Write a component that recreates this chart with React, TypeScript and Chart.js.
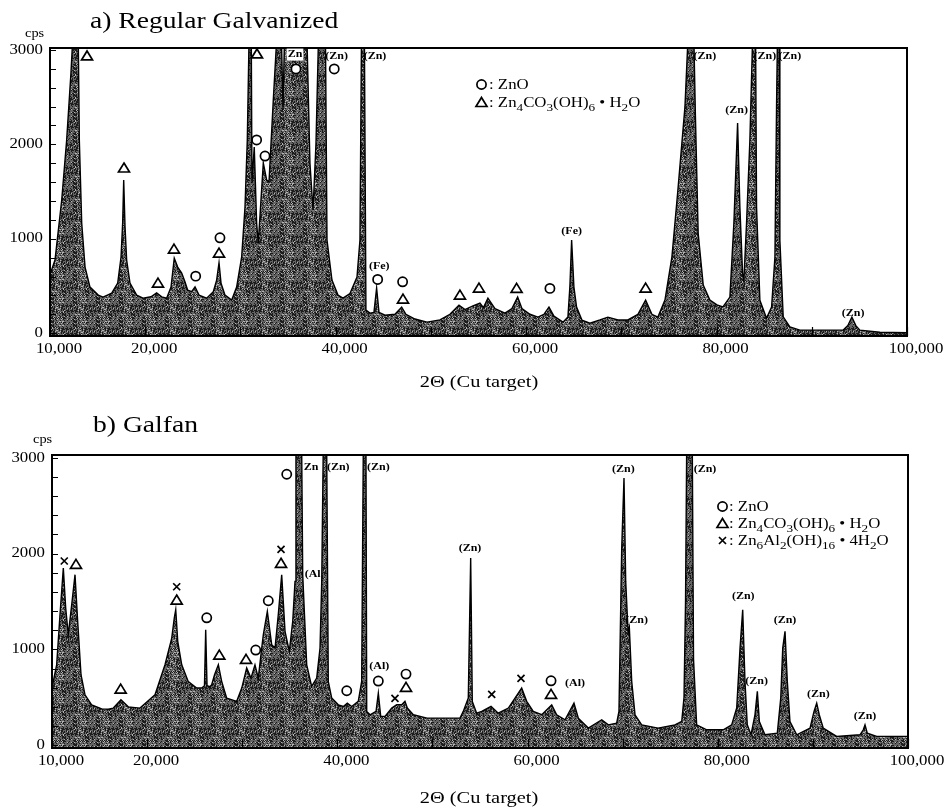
import React, { useEffect, useRef } from "react";
import { Chart, registerables } from "chart.js";

Chart.register(...registerables);

const SERIF = '"Liberation Serif", "Times New Roman", Times, serif';
const STRETCH = 1.2;

// ---------- axes ----------
const xTickValues = [10000, 20000, 30000, 40000, 50000, 60000, 70000, 80000, 90000, 100000];
const xLabelValues = [10000, 20000, 40000, 60000, 80000, 100000];
const xLabelTexts = ["10,000", "20,000", "40,000", "60,000", "80,000", "100,000"];
const yTickValues = [0, 200, 400, 600, 800, 1000, 1200, 1400, 1600, 1800, 2000, 2200, 2400, 2600, 2800, 3000];
const yLabelValues = [0, 1000, 2000, 3000];
const yLabelTexts = ["0", "1000", "2000", "3000"];

// ---------- panel a) Regular Galvanized ----------
const aTwoTheta = [10000,10525,11230,11750,12200,12380,12680,12970,13080,13330,13680,14200,15070,15570,16480,17110,17460,17630,17740,17880,18050,18400,19100,19770,20610,21200,21730,22250,22710,23050,23410,23830,24180,24460,24880,25230,25650,26450,27150,27500,27750,27960,28380,29080,29600,30130,30480,30720,30900,31050,31210,31450,31700,31870,32400,32750,33000,33450,33800,33990,34310,34470,34620,35730,36990,37300,37620,37930,38190,38560,38930,39090,39610,40240,40770,41500,42240,42550,42710,42870,43020,43180,43600,44020,44300,44550,45180,46230,46930,47380,48330,49590,50950,52000,52950,53580,54420,55150,55520,55990,56730,57780,58510,59110,59560,60400,61240,61870,62400,62920,63870,64390,64600,64780,65020,65300,65860,66700,67750,68590,69640,70690,71740,72550,73210,73840,74580,75310,75940,76680,76990,77300,77620,77780,78070,78600,79300,80040,80670,81400,81820,82210,82450,82730,82870,83150,83500,83780,83940,84100,84200,84550,85250,85780,86130,86300,86390,86490,86600,86650,87000,87700,88750,93270,93790,94210,94630,95050,97150,100000];
const aCps = [620,774,1410,2046,2756,3100,9000,3100,2046,1166,700,488,403,382,424,530,806,1166,1622,1124,774,530,403,371,385,427,385,371,488,795,700,636,541,456,440,491,403,371,438,562,745,530,403,350,488,809,1339,2046,3100,5000,1590,1972,1166,950,1802,1622,1600,2470,3100,5000,3100,2364,3100,8000,3100,1800,1300,2000,3100,7000,3100,986,562,403,371,420,594,986,3100,9000,3100,244,212,220,477,220,190,200,276,200,150,117,140,200,297,250,290,318,270,371,260,212,260,382,260,200,170,200,276,180,117,170,500,986,488,276,138,106,140,170,140,140,200,350,200,170,350,806,1516,2396,3100,9000,3100,2300,1057,510,350,300,279,382,1166,2226,1336,636,562,1166,2046,3100,6000,3100,1336,350,159,276,806,2396,3100,7000,3100,986,173,67,32,32,80,170,80,32,10,5];

const aTriangles: [number, number][] = [[13890,2936],[17770,1749],[21340,530],[23020,890],[27750,848],[31740,2957],[47070,360],[53050,403],[55050,477],[59000,474],[72550,477]];
const aCircles: [number, number][] = [[27850,1010],[25300,604],[31700,2046],[32580,1876],[35830,2798],[39850,2798],[44410,569],[47030,544],[62500,474]];
const aPeakLabels: [string, number, number][] = [["(Zn)",40100,2930],["(Zn)",44130,2930],["(Fe)",44580,703],["(Fe)",64780,1074],["(Zn)",78780,2930],["(Zn)",85080,2930],["(Zn)",87700,2930],["(Zn)",82100,2364],["(Zn)",94350,209]];
const aBoxedLabels: [string, number, number][] = [["Zn",35730,2950]];

// ---------- panel b) Galfan ----------
const bTwoTheta = [10000,10490,10840,11190,11440,11710,12070,12420,12700,13050,13470,14170,15230,15920,16450,17250,18020,19250,20830,21880,22590,22860,23010,23220,23640,24330,25210,25740,26030,26160,26300,26610,26790,27090,27490,27840,28370,29420,29950,30470,30920,31340,31690,32050,32220,32640,33100,33450,33790,34150,34500,34950,35310,35550,35650,35970,36250,36360,36780,37300,37830,38180,38360,38520,38700,38880,39050,39410,40100,40630,41050,41510,42200,42560,42730,42880,43010,43090,43440,44070,44310,44560,45010,45720,46240,46770,47110,47360,47990,49430,52900,53240,53770,54020,54190,54650,55180,56160,56920,57980,58680,59380,59910,60600,61490,62540,63060,63940,64880,65340,66390,67800,68490,69370,69610,69900,70140,70320,70490,70580,70700,70950,71300,72000,73720,75500,76210,76450,76610,76730,77030,77320,77450,77780,78840,80580,81460,81990,82340,82620,82860,83100,83490,83910,84160,84370,84960,86260,86620,86830,87070,87310,87590,88300,89700,90120,90400,90670,91090,92500,94950,95300,95480,95720,96710,100000];
const bCps = [600,839,1362,1850,1432,1153,1466,1780,1292,735,526,421,379,375,387,474,400,387,526,839,1118,1330,1414,1084,839,663,596,596,620,1205,620,610,630,735,839,666,491,457,596,805,700,839,700,1014,1153,1397,1048,1014,1362,1780,1188,979,1292,1710,3100,9000,3100,1780,839,613,700,1014,1710,3100,7000,3100,663,491,421,404,439,404,457,666,3100,9000,3100,352,317,352,543,300,300,387,421,421,457,387,317,282,282,352,491,1954,457,334,352,404,334,387,491,596,457,352,317,421,317,265,439,282,178,265,212,230,352,2059,2790,1710,1350,1180,1230,666,317,212,178,212,247,500,1500,3100,9000,3100,900,212,160,160,212,387,1014,1414,666,212,108,317,561,247,108,125,491,1014,1188,666,247,108,178,352,439,317,178,91,108,160,212,125,91,91];

const bCrosses: [number, number][] = [[11290,1923],[23110,1654],[34080,2045],[46060,488],[56230,530],[59310,697]];
const bTriangles: [number, number][] = [[12520,1888],[17220,585],[23110,1515],[27590,940],[30400,895],[34080,1899],[47220,603],[62470,530]];
const bCircles: [number, number][] = [[26270,1330],[31420,993],[32740,1508],[34680,2829],[40990,568],[44310,669],[47220,742],[62470,672]];
const bPeakLabels: [string, number, number][] = [["Zn",37250,2902],["(Zn)",40100,2902],["(Zn)",44310,2902],["(Al",37410,1787],["(Al)",44410,826],["(Zn)",53950,2055],["(Zn)",70070,2884],["(Zn)",78660,2884],["(Zn)",71470,1306],["(Al)",64990,645],["(Zn)",82680,1550],["(Zn)",84090,662],["(Zn)",87070,1299],["(Zn)",90570,533],["(Zn)",95480,303]];
const bBoxedLabels: [string, number, number][] = [];

// ---------- legends ----------
type Rich = [string, boolean][];
const legendZnO: Rich = [[": ZnO", false]];
const legendCarb: Rich = [[": Zn", false], ["4", true], ["CO", false], ["3", true], ["(OH)", false], ["6", true], [" \u2022 H", false], ["2", true], ["O", false]];
const legendLdh: Rich = [[": Zn", false], ["6", true], ["Al", false], ["2", true], ["(OH)", false], ["16", true], [" \u2022 4H", false], ["2", true], ["O", false]];

type Panel = {
  id: string; xs: number[]; ys: number[]; yMax: number; padTop: number; padRight: number;
  yAxisWidth: number; xAxisHeight: number;
  triangles: [number, number][]; circles: [number, number][]; crosses: [number, number][];
  labels: [string, number, number][]; boxed: [string, number, number][];
  legend: [string, Rich][]; legendSymX: number; legendTextX: number; legendY: number; legendDy: number;
  title: string; titleX: number; titleY: number; cpsX: number; cpsY: number; axisTitleY: number;
};

const panelA: Panel = {
  id: "a", xs: aTwoTheta, ys: aCps, yMax: 3020, padTop: 48, padRight: 38, yAxisWidth: 50, xAxisHeight: 64,
  triangles: aTriangles, circles: aCircles, crosses: [], labels: aPeakLabels, boxed: aBoxedLabels,
  legend: [["circle", legendZnO], ["triangle", legendCarb]], legendSymX: 481.5, legendTextX: 489, legendY: 89, legendDy: 18,
  title: "a) Regular Galvanized", titleX: 90, titleY: 28, cpsX: 25, cpsY: 37, axisTitleY: 387,
};
const panelB: Panel = {
  id: "b", xs: bTwoTheta, ys: bCps, yMax: 3030, padTop: 55, padRight: 37, yAxisWidth: 52, xAxisHeight: 59,
  triangles: bTriangles, circles: bCircles, crosses: bCrosses, labels: bPeakLabels, boxed: bBoxedLabels,
  legend: [["circle", legendZnO], ["triangle", legendCarb], ["cross", legendLdh]], legendSymX: 722.5, legendTextX: 729, legendY: 111, legendDy: 17,
  title: "b) Galfan", titleX: 93, titleY: 32, cpsX: 33, cpsY: 43, axisTitleY: 403,
};

function drawText(ctx: CanvasRenderingContext2D, s: string, x: number, y: number, size: number,
  align: CanvasTextAlign, baseline: CanvasTextBaseline, weight = "normal") {
  ctx.save();
  ctx.translate(x, y);
  ctx.scale(STRETCH, 1);
  ctx.font = `${weight} ${size}px ${SERIF}`;
  ctx.textAlign = align;
  ctx.textBaseline = baseline;
  ctx.fillText(s, 0, 0);
  ctx.restore();
}

function drawRich(ctx: CanvasRenderingContext2D, parts: Rich, x: number, y: number, size: number) {
  ctx.save();
  ctx.translate(x, y);
  ctx.scale(STRETCH, 1);
  ctx.textAlign = "left";
  ctx.textBaseline = "alphabetic";
  let cx = 0;
  for (const [t, sub] of parts) {
    const fs = sub ? Math.round(size * 0.75) : size;
    ctx.font = `${fs}px ${SERIF}`;
    ctx.fillText(t, cx, sub ? size * 0.25 : 0);
    cx += ctx.measureText(t).width;
  }
  ctx.restore();
}

function drawSymbol(ctx: CanvasRenderingContext2D, kind: string, x: number, y: number) {
  ctx.save();
  ctx.strokeStyle = "#000";
  ctx.fillStyle = "#fff";
  ctx.lineWidth = 1.7;
  ctx.beginPath();
  if (kind === "circle") {
    ctx.arc(x, y, 4.6, 0, Math.PI * 2);
    ctx.fill();
    ctx.stroke();
  } else if (kind === "triangle") {
    ctx.moveTo(x, y - 5);
    ctx.lineTo(x + 5.5, y + 4);
    ctx.lineTo(x - 5.5, y + 4);
    ctx.closePath();
    ctx.fill();
    ctx.stroke();
  } else {
    ctx.moveTo(x - 3.5, y - 3.5);
    ctx.lineTo(x + 3.5, y + 3.5);
    ctx.moveTo(x + 3.5, y - 3.5);
    ctx.lineTo(x - 3.5, y + 3.5);
    ctx.stroke();
  }
  ctx.restore();
}

// stipple texture for the filled area (a fixed dither, style only)
function makePattern(ctx: CanvasRenderingContext2D): CanvasPattern | string {
  const n = 23;
  const c = document.createElement("canvas");
  c.width = n;
  c.height = n;
  const g = c.getContext("2d");
  if (!g) return "#5a5a5a";
  for (let i = 0; i < n; i++) {
    for (let j = 0; j < n; j++) {
      const h = (i * i * 7 + j * j * 11 + i * j * 5 + i * 3 + j) % 19;
      g.fillStyle = h < 7 ? "#1c1c1c" : h > 15 ? "#b4b4b4" : "#646464";
      g.fillRect(i, j, 1, 1);
    }
  }
  return ctx.createPattern(c, "repeat") || "#5a5a5a";
}

function overlay(p: Panel) {
  return {
    id: "overlay_" + p.id,
    afterDatasetsDraw(chart: any) {
      const { ctx, chartArea: ca } = chart;
      const xs = chart.scales.x;
      const ys = chart.scales.y;
      const X = (v: number) => xs.getPixelForValue(v);
      const Y = (v: number) => ys.getPixelForValue(v);
      ctx.save();
      ctx.strokeStyle = "#000";
      ctx.fillStyle = "#000";
      ctx.lineWidth = 2;
      ctx.strokeRect(ca.left, ca.top, ca.right - ca.left, ca.bottom - ca.top);
      ctx.lineWidth = 1.2;
      ctx.beginPath();
      for (const v of yTickValues) {
        const py = Math.round(Y(v)) + 0.5;
        ctx.moveTo(ca.left, py);
        ctx.lineTo(ca.left + 6, py);
      }
      for (const v of xTickValues) {
        const px = Math.round(X(v)) + 0.5;
        ctx.moveTo(px, ca.bottom);
        ctx.lineTo(px, ca.bottom - 9);
      }
      ctx.stroke();

      yLabelValues.forEach((v, i) => drawText(ctx, yLabelTexts[i], ca.left - 7, Y(v), 14, "right", "middle"));
      xLabelValues.forEach((v, i) => drawText(ctx, xLabelTexts[i], X(v) + 9, ca.bottom + 13, 14, "center", "middle"));

      for (const [t, v, c] of p.boxed) {
        ctx.font = `bold 10px ${SERIF}`;
        const w = ctx.measureText(t).width * STRETCH;
        ctx.fillStyle = "#fff";
        ctx.fillRect(X(v) - w / 2 - 1, Y(c) - 6, w + 2, 12);
        ctx.fillStyle = "#000";
        drawText(ctx, t, X(v), Y(c), 10, "center", "middle", "bold");
      }
      ctx.fillStyle = "#000";
      for (const [t, v, c] of p.labels) {
        drawText(ctx, t, X(v), Y(c), 10, "center", "middle", "bold");
      }
      for (const [v, c] of p.circles) drawSymbol(ctx, "circle", X(v), Y(c));
      for (const [v, c] of p.triangles) drawSymbol(ctx, "triangle", X(v), Y(c));
      for (const [v, c] of p.crosses) drawSymbol(ctx, "cross", X(v), Y(c));

      p.legend.forEach(([kind, parts], i) => {
        const by = p.legendY + i * p.legendDy;
        drawSymbol(ctx, kind, p.legendSymX, by - 4.5);
        ctx.fillStyle = "#000";
        drawRich(ctx, parts, p.legendTextX, by, 14);
      });

      ctx.fillStyle = "#000";
      drawText(ctx, p.title, p.titleX, p.titleY, 23, "left", "alphabetic");
      drawText(ctx, "cps", p.cpsX, p.cpsY, 12, "left", "alphabetic");
      drawText(ctx, "2\u0398 (Cu target)", 479, p.axisTitleY, 17, "center", "alphabetic");
      ctx.restore();
    },
  };
}

function buildChart(canvas: HTMLCanvasElement, p: Panel) {
  const c2d = canvas.getContext("2d") as CanvasRenderingContext2D;
  const pattern = makePattern(c2d);
  return new Chart(canvas, {
    type: "line",
    data: {
      datasets: [
        {
          data: p.xs.map((x, i) => ({ x, y: p.ys[i] })),
          borderColor: "#000",
          borderWidth: 1.4,
          backgroundColor: pattern as any,
          fill: "start",
          pointRadius: 0,
          tension: 0,
        },
      ],
    },
    options: {
      responsive: false,
      animation: false,
      events: [],
      layout: { padding: { left: 0, right: p.padRight, top: p.padTop, bottom: 0 } },
      scales: {
        x: {
          type: "linear", min: 10000, max: 100000,
          grid: { display: false }, border: { display: false }, ticks: { display: false },
          afterFit: (s: any) => { s.height = p.xAxisHeight; },
        },
        y: {
          type: "linear", min: -30, max: p.yMax,
          grid: { display: false }, border: { display: false }, ticks: { display: false },
          afterFit: (s: any) => { s.width = p.yAxisWidth; },
        },
      },
      plugins: { legend: { display: false }, tooltip: { enabled: false }, title: { display: false } },
    } as any,
    plugins: [overlay(p)],
  });
}

export default function App() {
  const refA = useRef<HTMLCanvasElement>(null);
  const refB = useRef<HTMLCanvasElement>(null);
  useEffect(() => {
    const a = buildChart(refA.current as HTMLCanvasElement, panelA);
    const b = buildChart(refB.current as HTMLCanvasElement, panelB);
    return () => {
      a.destroy();
      b.destroy();
    };
  }, []);
  return (
    <div style={{ position: "absolute", left: 0, top: 0, width: 945, height: 807, background: "#fff" }}>
      <canvas ref={refA} width={945} height={400} style={{ position: "absolute", left: 0, top: 0 }} />
      <canvas ref={refB} width={945} height={407} style={{ position: "absolute", left: 0, top: 400 }} />
    </div>
  );
}
